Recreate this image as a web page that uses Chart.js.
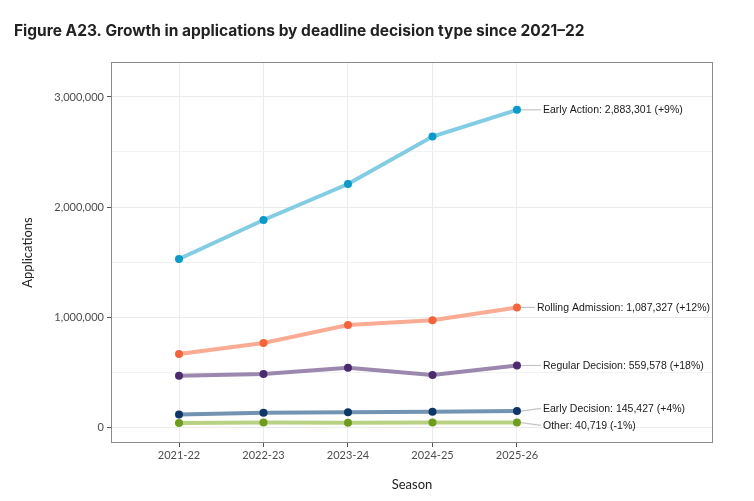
<!DOCTYPE html>
<html>
<head>
<meta charset="utf-8">
<script src="https://cdn.jsdelivr.net/npm/chart.js@4.4.1/dist/chart.umd.min.js"></script>
<style>
  html, body { margin: 0; padding: 0; background: #fff; }
  #wrap { width: 754px; height: 501px; position: relative; }
</style>
</head>
<body>
<div id="wrap"><canvas id="growthChart"></canvas></div>
<script>
// seasons and series
const seasons = ["2021-22", "2022-23", "2023-24", "2024-25", "2025-26"];
const seriesNames = ["Early Action", "Rolling Admission", "Regular Decision", "Early Decision", "Other"];
const earlyAction = [1527000, 1882000, 2209000, 2640000, 2883301];
const rollingAdmission = [664000, 764000, 927000, 970000, 1087327];
const regularDecision = [466000, 482000, 539000, 474000, 559578];
const earlyDecision = [115000, 130000, 134000, 139800, 145427];
const other = [36000, 42000, 40000, 41100, 40719];
const pctChange = [9, 12, 18, 4, -1];
const yTicks = [0, 1000000, 2000000, 3000000];

const lineColors = ['#82cde3', '#f9ab94', '#9c88ae', '#7393b3', '#b8d182'];
const pointColors = ['#0a9bc9', '#f4643c', '#4c2a6e', '#0e3668', '#6e9c1d'];
const allSeries = [earlyAction, rollingAdmission, regularDecision, earlyDecision, other];

const datasets = allSeries.map((vals, k) => ({
  label: seriesNames[k],
  data: vals.map((v, i) => ({ x: i, y: v })),
  borderColor: lineColors[k],
  borderWidth: 4,
  pointBackgroundColor: pointColors[k],
  pointBorderWidth: 0,
  pointRadius: 4,
  tension: 0,
  order: k
}));

const fmt = n => n.toLocaleString('en-US');

// title, panel border and end labels
const decor = {
  id: 'decor',
  beforeDraw(chart) {
    const c = chart.ctx;
    c.save();
    c.fillStyle = '#222';
    c.font = 'bold 15.5px Inter, "Noto Sans", sans-serif';
    c.textBaseline = 'middle';
    c.fillText('Figure A23. Growth in applications by deadline decision type since 2021\u201322', 14, 31);
    c.restore();
  },
  afterDraw(chart) {
    const c = chart.ctx, a = chart.chartArea;
    const xs = chart.scales.x, ys = chart.scales.y;
    c.save();
    c.strokeStyle = '#8a8a8a';
    c.lineWidth = 1;
    c.strokeRect(a.left + 0.5, a.top + 0.5, a.width - 1, a.height - 1);

    c.font = '10.5px "Liberation Sans", Arial, sans-serif';
    const last = seasons.length - 1;
    const px = xs.getPixelForValue(last);
    let labels = allSeries.map((vals, k) => {
      const v = vals[last];
      const txt = seriesNames[k] + ': ' + fmt(v) + ' (' + (pctChange[k] > 0 ? '+' : '') + pctChange[k] + '%)';
      return { txt, py: ys.getPixelForValue(v), ly: ys.getPixelForValue(v) };
    });
    // simple repel so labels don't collide
    labels.sort((p, q) => p.py - q.py);
    const gap = 17;
    for (let it = 0; it < 20; it++) {
      for (let i = 1; i < labels.length; i++) {
        const d = labels[i].ly - labels[i - 1].ly;
        if (d < gap) {
          const s = (gap - d) / 2;
          labels[i].ly += s;
          labels[i - 1].ly -= s;
        }
      }
    }
    labels.forEach(l => {
      const w = c.measureText(l.txt).width;
      const lx = Math.min(px + 26, a.right - w - 3);
      c.strokeStyle = '#c4c4c4';
      c.lineWidth = 1.2;
      c.beginPath();
      c.moveTo(px + 4, l.py);
      c.lineTo(lx - 2, l.ly);
      c.stroke();
      c.fillStyle = '#1a1a1a';
      c.textBaseline = 'middle';
      c.fillText(l.txt, lx, l.ly + 0.5);
    });
    c.restore();
  }
};

new Chart(document.getElementById('growthChart'), {
  type: 'line',
  data: { datasets },
  options: {
    responsive: true,
    maintainAspectRatio: false,
    animation: false,
    layout: { padding: { top: 62, right: 41, left: 16, bottom: 0 } },
    plugins: { legend: { display: false }, tooltip: { enabled: false } },
    scales: {
      x: {
        type: 'linear',
        min: -0.805,
        max: 6.32,
        afterBuildTicks: s => { s.ticks = seasons.map((_, i) => ({ value: i })); },
        afterFit: s => { s.height = 58; },
        ticks: {
          autoSkip: false,
          maxRotation: 0,
          padding: 2,
          color: '#4d4d4d',
          font: { family: 'Lato, "Open Sans", sans-serif', size: 11 },
          callback: v => seasons[v]
        },
        grid: { color: '#ebebeb', lineWidth: 1, tickLength: 4, tickColor: '#555' },
        border: { display: false },
        title: {
          display: true, text: 'Season', color: '#222',
          font: { family: 'Lato, "Open Sans", sans-serif', size: 13 },
          padding: { top: 6, bottom: 8 }
        }
      },
      y: {
        min: -145000,
        max: 3318000,
        afterBuildTicks: s => {
          const t = [];
          for (let v = 0; v <= 3000000; v += 500000) t.push({ value: v });
          s.ticks = t;
        },
        afterFit: s => { s.width = 95; },
        ticks: {
          autoSkip: false,
          padding: 3,
          color: '#4d4d4d',
          font: { family: 'Lato, "Open Sans", sans-serif', size: 11 },
          callback: v => yTicks.includes(v) ? fmt(v) : ''
        },
        grid: {
          color: ctx => (ctx.tick && yTicks.includes(ctx.tick.value)) ? '#ebebeb' : '#f3f3f3',
          lineWidth: 1,
          tickLength: 4,
          tickColor: ctx => (ctx.tick && yTicks.includes(ctx.tick.value)) ? '#555' : 'rgba(0,0,0,0)'
        },
        border: { display: false },
        title: {
          display: true, text: 'Applications', color: '#222',
          font: { family: 'Lato, "Open Sans", sans-serif', size: 13 },
          padding: { top: 4, bottom: 4 }
        }
      }
    }
  },
  plugins: [decor]
});
</script>
</body>
</html>
